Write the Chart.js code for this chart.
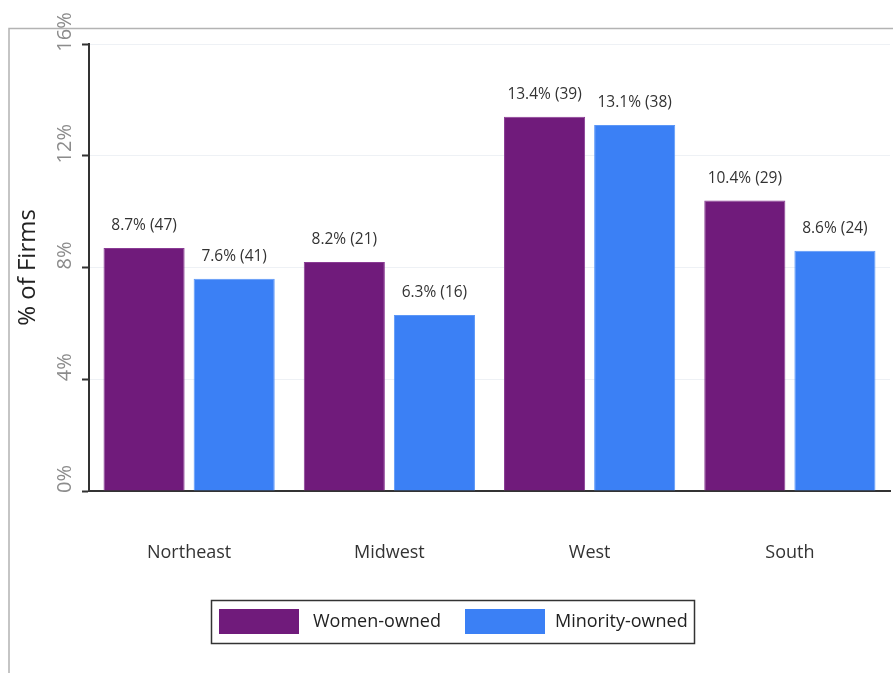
<!DOCTYPE html>
<html>
<head>
<meta charset="utf-8">
<script src="https://cdn.jsdelivr.net/npm/chart.js@4"></script>
<style>
  html, body { margin: 0; padding: 0; background: #fff; }
  #wrap { width: 894px; height: 673px; }
</style>
</head>
<body>
<div id="wrap"><canvas id="chart" width="894" height="673"></canvas></div>
<script>
const regions       = ['Northeast', 'Midwest', 'West', 'South'];
const womenPct      = [8.7, 8.2, 13.4, 10.4];
const womenCount    = [47, 21, 39, 29];
const minorityPct   = [7.6, 6.3, 13.1, 8.6];
const minorityCount = [41, 16, 38, 24];
const yMax  = 16;
const yStep = 4;

const FONT = '"Open Sans", "DejaVu Sans", sans-serif';

// frame lines round the whole picture
const framePlugin = {
  id: 'frame',
  beforeDraw(chart) {
    const ctx = chart.ctx;
    ctx.save();
    ctx.strokeStyle = '#b3b3b3';
    ctx.lineWidth = 1.5;
    ctx.beginPath();
    ctx.moveTo(9, 673);
    ctx.lineTo(9, 28.5);
    ctx.lineTo(893, 28.5);
    ctx.stroke();
    ctx.restore();
  }
};

// rotated y tick labels, taken from the y scale ticks
const yLabelPlugin = {
  id: 'yLabels',
  afterDraw(chart) {
    const ctx = chart.ctx, y = chart.scales.y;
    ctx.save();
    ctx.font = '20px ' + FONT;
    ctx.fillStyle = '#8c8c8c';
    ctx.textAlign = 'center';
    ctx.textBaseline = 'middle';
    y.ticks.forEach(t => {
      const py = y.getPixelForValue(t.value);
      ctx.save();
      ctx.translate(65, py - 12);
      ctx.rotate(-Math.PI / 2);
      ctx.fillText(t.value + '%', 0, 0);
      ctx.restore();
    });
    ctx.restore();
  }
};

// value labels above the bars
const valueLabelPlugin = {
  id: 'valueLabels',
  afterDatasetsDraw(chart) {
    const ctx = chart.ctx;
    ctx.save();
    ctx.font = '15.5px ' + FONT;
    ctx.fillStyle = '#333';
    ctx.textAlign = 'center';
    ctx.textBaseline = 'middle';
    chart.data.datasets.forEach((ds, i) => {
      chart.getDatasetMeta(i).data.forEach((bar, j) => {
        ctx.fillText(ds.data[j].toFixed(1) + '% (' + ds.counts[j] + ')', bar.x, bar.y - 22);
      });
    });
    ctx.restore();
  }
};

// boxed legend under the chart
const legendBoxPlugin = {
  id: 'legendBox',
  afterDraw(chart) {
    const ctx = chart.ctx;
    const items = [{ sx: 219, tx: 313 }, { sx: 465, tx: 555 }];
    ctx.save();
    ctx.strokeStyle = '#333';
    ctx.lineWidth = 1.5;
    ctx.strokeRect(211.5, 600.5, 483, 43);
    ctx.font = '18px ' + FONT;
    ctx.textBaseline = 'middle';
    ctx.textAlign = 'left';
    chart.data.datasets.forEach((ds, i) => {
      ctx.fillStyle = ds.backgroundColor;
      ctx.fillRect(items[i].sx, 609, 80, 25);
      ctx.fillStyle = '#222';
      ctx.fillText(ds.label, items[i].tx, 622);
    });
    ctx.restore();
  }
};

new Chart(document.getElementById('chart'), {
  type: 'bar',
  data: {
    labels: regions,
    datasets: [
      { label: 'Women-owned', data: womenPct, counts: womenCount,
        backgroundColor: '#701b7b', borderColor: '#8a3b94', borderWidth: 1 },
      { label: 'Minority-owned', data: minorityPct, counts: minorityCount,
        backgroundColor: '#3b80f5', borderColor: '#5c97f7', borderWidth: 1 }
    ]
  },
  options: {
    responsive: false,
    animation: false,
    layout: { padding: { top: 44, right: 4, bottom: 0, left: 0 } },
    datasets: { bar: { categoryPercentage: 0.9, barPercentage: 0.9 } },
    plugins: { legend: { display: false }, tooltip: { enabled: false } },
    scales: {
      x: {
        grid: { display: false, drawTicks: false },
        border: { display: true, color: '#333', width: 2 },
        ticks: { color: '#333', font: { family: FONT, size: 18 }, padding: 51 },
        afterFit(s) { s.height = 182; }
      },
      y: {
        min: 0, max: yMax,
        ticks: { stepSize: yStep, display: false },
        grid: { color: '#eef1f5', lineWidth: 1, tickColor: '#333', tickWidth: 2, tickLength: 7 },
        border: { display: true, color: '#333', width: 2 },
        title: { display: true, text: '% of Firms', color: '#222',
                 font: { family: FONT, size: 24 }, padding: { top: 14, bottom: 0 } },
        afterFit(s) { s.width = 89; }
      }
    }
  },
  plugins: [framePlugin, yLabelPlugin, valueLabelPlugin, legendBoxPlugin]
});
</script>
</body>
</html>
